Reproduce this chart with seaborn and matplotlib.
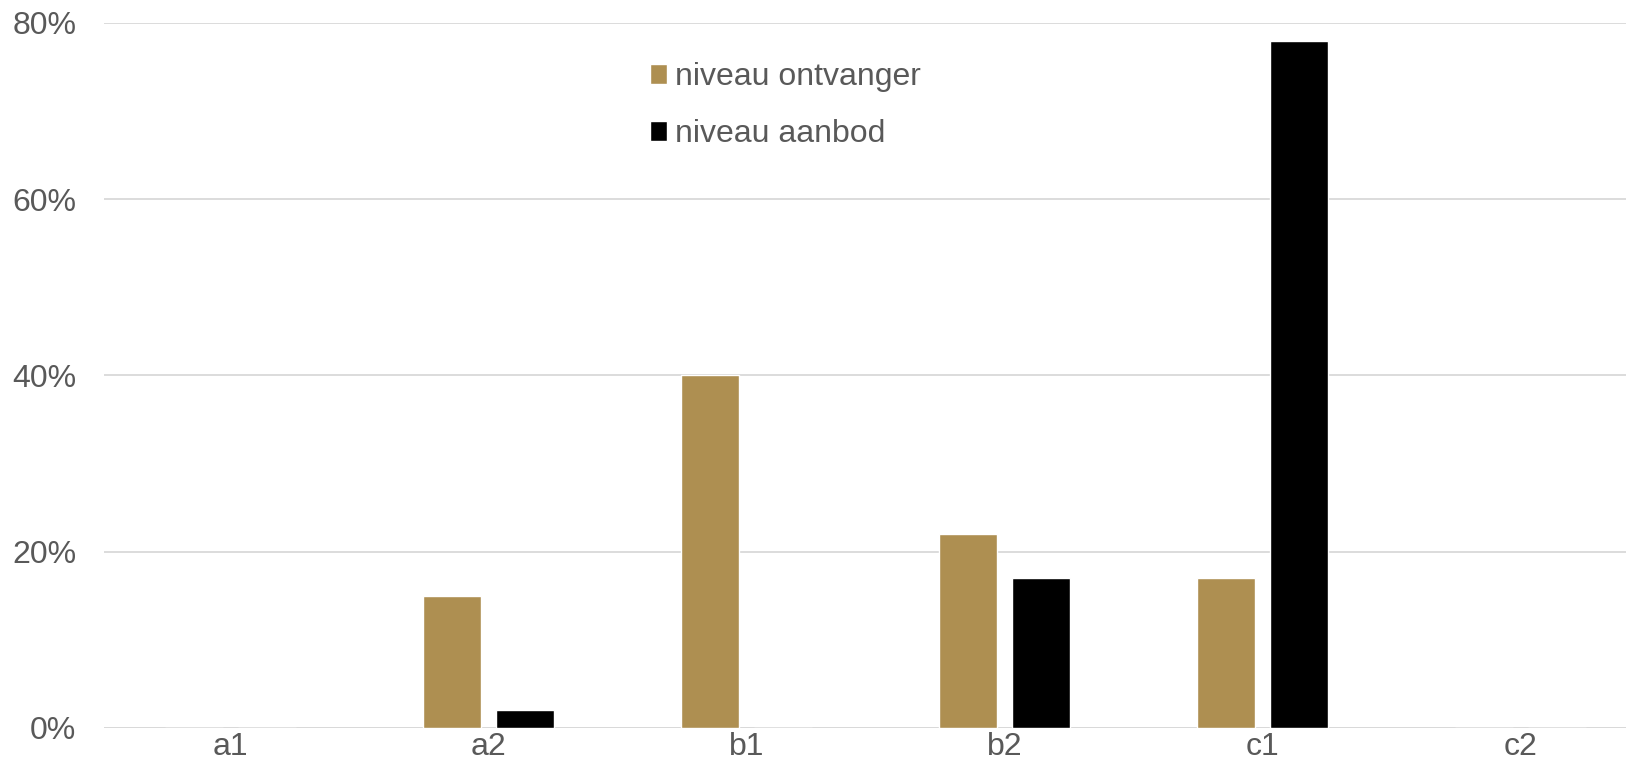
import matplotlib
matplotlib.use("Agg")
import matplotlib.pyplot as plt
import seaborn as sns
import pandas as pd
from matplotlib.ticker import FuncFormatter

categories = ["a1", "a2", "b1", "b2", "c1", "c2"]
series_names = ["niveau ontvanger", "niveau aanbod"]
ontvanger = [0, 15, 40, 22, 17, 0]
aanbod = [0, 2, 0, 17, 78, 0]
yticks = [0, 20, 40, 60, 80]

colors = ["#AE8F51", "#000000"]

df = pd.DataFrame({
    "cat": categories * 2,
    "val": ontvanger + aanbod,
    "serie": [series_names[0]] * len(categories) + [series_names[1]] * len(categories),
})

sns.set_theme(style="white")
plt.rcParams["font.family"] = ["Liberation Sans", "DejaVu Sans"]

fig = plt.figure(figsize=(16.26, 7.79), dpi=100)
ax = fig.add_axes([0.064, 0.0655, 0.936, 0.905])

sns.barplot(data=df, x="cat", y="val", hue="serie", order=categories,
            hue_order=series_names, palette=colors, width=0.566, gap=0.2,
            saturation=1, ax=ax, legend=True)

ax.set_xlim(-0.49, 5.41)
ax.set_ylim(0, 80)
ax.set_yticks(yticks)
ax.yaxis.set_major_formatter(FuncFormatter(lambda v, p: f"{int(v)}%"))
ax.grid(axis="y", color="#D9D9D9", linewidth=1.3)
ax.set_axisbelow(True)
for s in ax.spines.values():
    s.set_visible(False)
ax.axhline(0, color="#D9D9D9", linewidth=1.3, zorder=0.5)
ax.set_xlabel("")
ax.set_ylabel("")
ax.tick_params(axis="both", length=0, labelsize=23, labelcolor="#595959")
ax.tick_params(axis="y", pad=20)
ax.tick_params(axis="x", pad=3)

handles, labels = ax.get_legend_handles_labels()
ax.get_legend().remove()
fig.legend(handles, labels, loc="upper left", bbox_to_anchor=(0.3995, 0.92),
           frameon=False, fontsize=23, labelcolor="#595959",
           handlelength=0.56, handleheight=0.56, handletextpad=0.25,
           labelspacing=0.84, borderpad=0, borderaxespad=0)

fig.savefig("out.png", dpi=100)
